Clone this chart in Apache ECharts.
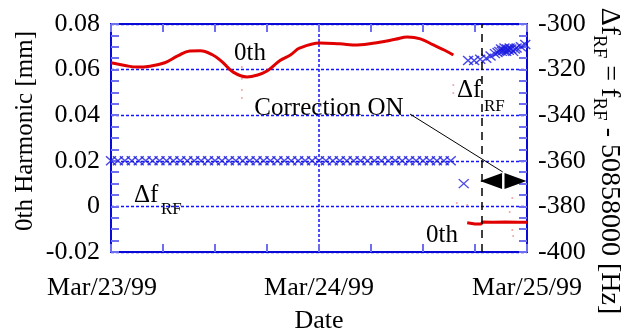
<!DOCTYPE html>
<html>
<head>
<meta charset="utf-8">
<script src="https://cdn.jsdelivr.net/npm/echarts@6/dist/echarts.min.js"></script>
<style>
  html, body { margin: 0; padding: 0; background: #fff; }
  #chart { width: 638px; height: 333px; }
</style>
</head>
<body>
<div id="chart"></div>
<script>
// x values are hours since Mar/23/99 00:00
const dayLabels = { 0: 'Mar/23/99', 24: 'Mar/24/99', 48: 'Mar/25/99' }

// 0th harmonic [mm], before correction
const redBeforeHours = [0, 1.6, 3.0, 4.5, 6.2, 7.7, 9.1, 10.3, 11.7, 12.8, 14.1, 15.7, 16.8, 18.0, 19.5, 20.7, 21.8, 24.1, 26.4, 28.4, 31.0, 32.8, 34.2, 35.7, 37.2, 38.5, 39.5]
const redBeforeMm = [0.0630, 0.0618, 0.0611, 0.0615, 0.0630, 0.0660, 0.0682, 0.0683, 0.0665, 0.0635, 0.0589, 0.0568, 0.0575, 0.0594, 0.0640, 0.0664, 0.0695, 0.0717, 0.0713, 0.0708, 0.0720, 0.0733, 0.0743, 0.0735, 0.0708, 0.0685, 0.0664]
// 0th harmonic [mm], after correction
const redAfterHours = [41.1, 42.0, 42.7, 42.9, 44.0, 45.5, 47.0, 48.0]
const redAfterMm = [-0.0072, -0.0077, -0.0077, -0.0068, -0.0069, -0.0068, -0.0070, -0.0069]
// stray red points
const strayHours = [15.1, 15.1, 15.1, 15.1, 39.5, 39.5, 39.9, 41.1, 46.3, 46.0, 46.3, 46.4]
const strayMm = [0.0611, 0.0560, 0.0510, 0.0475, 0.0532, 0.0497, 0.0015, 0.0006, 0.0037, -0.0025, -0.0103, -0.0130]

// delta f_RF [Hz]
const dfBeforeHours = [0, 0.8, 1.6, 2.4, 3.2, 4, 4.8, 5.6, 6.4, 7.2, 8, 8.8, 9.6, 10.4, 11.2, 12, 12.8, 13.6, 14.4, 15.2, 16, 16.8, 17.6, 18.4, 19.2, 20, 20.8, 21.6, 22.4, 23.2, 24, 24.8, 25.6, 26.4, 27.2, 28, 28.8, 29.6, 30.4, 31.2, 32, 32.8, 33.6, 34.4, 35.2, 36, 36.8, 37.6, 38.4, 39.2]
const dfBeforeHz = [-360, -360, -360, -360, -360, -360, -360, -360, -360, -360, -360, -360, -360, -360, -360, -360, -360, -360, -360, -360, -360, -360, -360, -360, -360, -360, -360, -360, -360, -360, -360, -360, -360, -360, -360, -360, -360, -360, -360, -360, -360, -360, -360, -360, -360, -360, -360, -360, -360, -360]
const dfMidHours = [40.7]
const dfMidHz = [-370]
const dfAfterHours = [41.2, 41.9, 42.6, 43.3, 43.8, 44.3, 44.6, 44.8, 45.0, 45.1, 45.3, 45.4, 45.6, 45.7, 45.9, 46.0, 46.2, 46.4, 46.6, 46.8, 47.3, 47.8]
const dfAfterHz = [-316, -316, -315.5, -315, -314, -313, -312.5, -312, -311, -312, -311.5, -310.5, -312, -311, -311.5, -310.5, -311, -312, -311, -310.5, -310, -309]

const zip = (xs, ys) => xs.map((x, i) => [x, ys[i]])

const FONT = '"Liberation Serif", "Times New Roman", serif'
const AXIS_BLUE = '#0a0ad8'
const TICK_BLUE = '#6e6ef0'
const GRID_BLUE = '#1414ff'
const RED = '#e00000'
const CROSS = 'path://M0,0L10,10M10,0L0,10'

const chart = echarts.init(document.getElementById('chart'), null, { renderer: 'canvas' })

const axisBase = {
  axisLine: { show: true, onZero: false, lineStyle: { color: AXIS_BLUE, width: 2 } },
  axisTick: { show: true, inside: true, length: 8, lineStyle: { color: TICK_BLUE, width: 2 } },
  minorTick: { show: true, splitNumber: 4, length: 8, lineStyle: { color: TICK_BLUE, width: 2 } }
}

chart.setOption({
  animation: false,
  backgroundColor: '#fff',
  grid: { left: 111, right: 111, top: 24, bottom: 81, containLabel: false, outerBoundsMode: 'none' },
  xAxis: [{
    type: 'value', min: 0, max: 48, interval: 24, position: 'bottom',
    ...axisBase,
    axisLabel: {
      margin: 23, color: '#000', fontFamily: FONT, fontSize: 26,
      formatter: v => {
        const h = Math.round(v)
        return h === 0 ? '{first|' + dayLabels[0] + '}' : (dayLabels[h] || '')
      },
      rich: { first: { color: '#000', fontFamily: FONT, fontSize: 26, padding: [0, 18, 0, 0] } }
    },
    splitLine: { show: true, lineStyle: { color: GRID_BLUE, type: [3, 2], width: 1.5 } },
    name: 'Date', nameLocation: 'middle', nameGap: 56,
    nameTextStyle: { color: '#000', fontFamily: FONT, fontSize: 26 }
  }, {
    type: 'value', min: 0, max: 48, interval: 24, position: 'top',
    ...axisBase,
    axisLabel: { show: false },
    splitLine: { show: false }
  }],
  yAxis: [{
    type: 'value', min: -0.02, max: 0.08, interval: 0.02, position: 'left',
    ...axisBase,
    axisLabel: {
      margin: 11, color: '#000', fontFamily: FONT, fontSize: 26, padding: [0, 0, 8, 0],
      formatter: v => Math.abs(v) < 1e-9 ? '0' : v.toFixed(2)
    },
    splitLine: { show: true, lineStyle: { color: GRID_BLUE, type: [3, 2], width: 1.3 } }
  }, {
    type: 'value', min: -400, max: -300, interval: 20, position: 'right',
    ...axisBase,
    axisLabel: { margin: 11, color: '#000', fontFamily: FONT, fontSize: 26, padding: [0, 0, 8, 0] },
    splitLine: { show: false }
  }],
  graphic: [
    { type: 'text', x: 25, y: 131, rotation: Math.PI / 2,
      style: { text: '0th Harmonic [mm]', font: '25px ' + FONT, fill: '#000', align: 'center', verticalAlign: 'middle' } },
    { type: 'text', x: 609, y: 161, rotation: -Math.PI / 2,
      style: {
        text: '{a|Δf}{s|RF}{a| = f}{s|RF}{a| - 50858000 [Hz]}',
        align: 'center', verticalAlign: 'middle',
        rich: {
          a: { font: '28px ' + FONT, fill: '#000', lineHeight: 28 },
          s: { font: '19px ' + FONT, fill: '#000', lineHeight: 19, padding: [20, 0, 0, 0] }
        }
      } },
    { type: 'text', x: 250, y: 53, style: { text: '0th', font: '25px ' + FONT, fill: '#000', align: 'center', verticalAlign: 'middle' } },
    { type: 'text', x: 442, y: 235, style: { text: '0th', font: '25px ' + FONT, fill: '#000', align: 'center', verticalAlign: 'middle' } },
    { type: 'text', x: 329, y: 108, style: { text: 'Correction ON', font: '25px ' + FONT, fill: '#000', align: 'center', verticalAlign: 'middle' } },
    { type: 'text', x: 457, y: 90, style: { text: 'Δf', font: '25px ' + FONT, fill: '#000', align: 'left', verticalAlign: 'middle' } },
    { type: 'text', x: 484, y: 107, style: { text: 'RF', font: '17px ' + FONT, fill: '#000', align: 'left', verticalAlign: 'middle' } },
    { type: 'text', x: 134, y: 195, style: { text: 'Δf', font: '25px ' + FONT, fill: '#000', align: 'left', verticalAlign: 'middle' } },
    { type: 'text', x: 161, y: 210, style: { text: 'RF', font: '17px ' + FONT, fill: '#000', align: 'left', verticalAlign: 'middle' } }
  ],
  series: [{
    name: '0th', type: 'line', xAxisIndex: 0, yAxisIndex: 0,
    data: zip(redBeforeHours, redBeforeMm),
    smooth: 0.4, showSymbol: false,
    lineStyle: { color: RED, width: 3 },
    markLine: {
      silent: true, symbol: ['none', 'none'], label: { show: false },
      data: [
        { xAxis: 42.8, lineStyle: { color: '#000', type: [8, 6], width: 1.5 } },
        [{ coord: [34.5, 0.0405], lineStyle: { color: '#000', type: 'solid', width: 1 } }, { coord: [45.2, 0.0151] }]
      ]
    },
    markPoint: {
      silent: true, label: { show: false },
      itemStyle: { color: '#000' },
      data: [
        { coord: [43.85, 0.0111], symbol: 'triangle', symbolSize: [16, 22], symbolRotate: 90 },
        { coord: [46.67, 0.0111], symbol: 'triangle', symbolSize: [16, 22], symbolRotate: -90 }
      ]
    }
  }, {
    name: '0th after', type: 'line', xAxisIndex: 0, yAxisIndex: 0,
    data: zip(redAfterHours, redAfterMm),
    showSymbol: false,
    lineStyle: { color: RED, width: 3 }
  }, {
    name: 'stray', type: 'scatter', xAxisIndex: 0, yAxisIndex: 0,
    data: zip(strayHours, strayMm),
    symbolSize: 2, itemStyle: { color: 'rgba(235,90,90,0.7)' }
  }, {
    name: 'dfRF', type: 'scatter', xAxisIndex: 0, yAxisIndex: 1,
    data: zip(dfBeforeHours, dfBeforeHz).concat(zip(dfMidHours, dfMidHz), zip(dfAfterHours, dfAfterHz)),
    symbol: CROSS, symbolSize: [10, 9],
    itemStyle: { color: 'transparent', borderColor: '#1c1ce0', borderWidth: 1.4 }
  }]
})
</script>
</body>
</html>
